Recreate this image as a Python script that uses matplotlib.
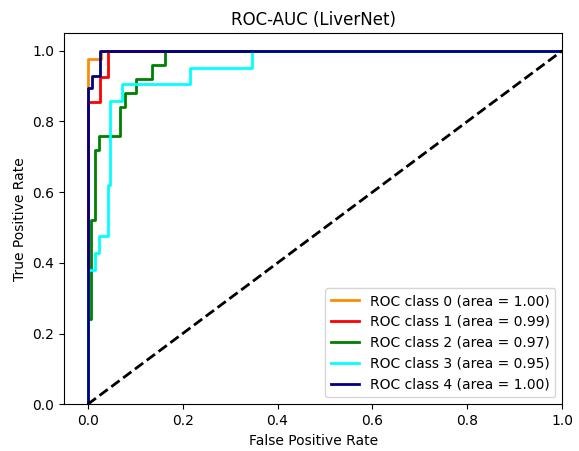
import matplotlib
matplotlib.use("Agg")
import matplotlib.pyplot as plt

# ROC curve points (false positive rate, true positive rate) per class
fpr_class0 = [0.0, 0.0, 0.0, 0.027, 0.027, 1.0]
tpr_class0 = [0.0, 0.5, 0.976, 0.976, 1.0, 1.0]

fpr_class1 = [0.0, 0.0, 0.025, 0.025, 0.043, 0.043, 1.0]
tpr_class1 = [0.0, 0.854, 0.854, 0.927, 0.927, 1.0, 1.0]

fpr_class2 = [0.0, 0.0, 0.007, 0.007, 0.016, 0.016, 0.024, 0.024, 0.067, 0.067,
              0.078, 0.078, 0.102, 0.102, 0.136, 0.136, 0.162, 0.162, 1.0]
tpr_class2 = [0.0, 0.24, 0.24, 0.52, 0.52, 0.72, 0.72, 0.76, 0.76, 0.84,
              0.84, 0.88, 0.88, 0.92, 0.92, 0.96, 0.96, 1.0, 1.0]

fpr_class3 = [0.0, 0.0, 0.015, 0.015, 0.024, 0.024, 0.043, 0.043, 0.048, 0.048,
              0.073, 0.073, 0.215, 0.215, 0.347, 0.347, 1.0]
tpr_class3 = [0.0, 0.381, 0.381, 0.429, 0.429, 0.476, 0.476, 0.619, 0.619, 0.857,
              0.857, 0.905, 0.905, 0.952, 0.952, 1.0, 1.0]

fpr_class4 = [0.0, 0.0, 0.009, 0.009, 0.025, 0.025, 1.0]
tpr_class4 = [0.0, 0.894, 0.894, 0.928, 0.928, 1.0, 1.0]

class_names = ["0", "1", "2", "3", "4"]
auc_values = [1.00, 0.99, 0.97, 0.95, 1.00]
colors = ["darkorange", "red", "green", "aqua", "navy"]

fprs = [fpr_class0, fpr_class1, fpr_class2, fpr_class3, fpr_class4]
tprs = [tpr_class0, tpr_class1, tpr_class2, tpr_class3, tpr_class4]

fig = plt.figure(figsize=(5.79, 4.51), dpi=100)
ax = fig.add_axes([0.1105, 0.1035, 0.8606, 0.8233])

for name, fpr, tpr, auc, color in zip(class_names, fprs, tprs, auc_values, colors):
    ax.plot(fpr, tpr, color=color, lw=2,
            label=f"ROC class {name} (area = {auc:.2f})")

ax.plot([0, 1], [0, 1], "k--", lw=2)
ax.set_xlim([-0.05, 1.0])
ax.set_ylim([0.0, 1.05])
ax.set_xlabel("False Positive Rate")
ax.set_ylabel("True Positive Rate")
ax.set_title("ROC-AUC (LiverNet)")
ax.legend(loc="lower right")

fig.savefig("out.png", dpi=100)
